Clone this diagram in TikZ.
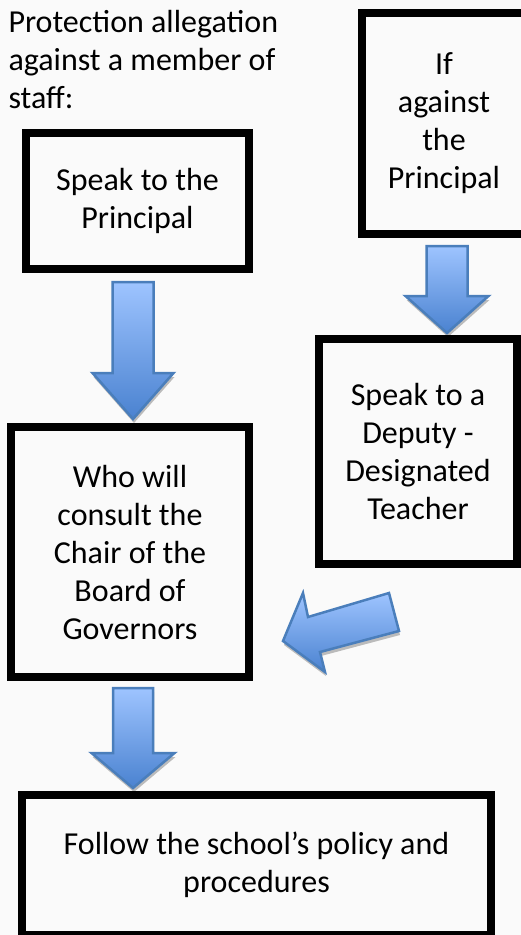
\documentclass[tikz,border=0pt]{standalone}
\usepackage{fontspec}
\setmainfont{Carlito}
\usetikzlibrary{calc}
\usetikzlibrary{shadows}

\definecolor{paper}{HTML}{FAFAFA}
\definecolor{arrowtop}{HTML}{9EC4FF}
\definecolor{arrowbottom}{HTML}{4A82D0}
\definecolor{arrowline}{HTML}{4A7EBB}

\tikzset{
  flowtext/.style={font=\fontsize{32}{38}\selectfont},
  box/.style={flowtext, draw=black, line width=8pt, inner sep=0pt, align=center},
  blockarrow/.style={draw=arrowline, line width=2.5pt, line join=miter,
    top color=arrowtop, bottom color=arrowbottom,
    drop shadow={shadow xshift=1pt, shadow yshift=-4pt, opacity=0.25, fill=black}},
}

\begin{document}
\begin{tikzpicture}[x=1pt, y=-1pt]
\clip (0,0) rectangle (521,935); % page is the size of the reference
\fill [paper] (0,0) rectangle (521,935);

% base of a multi-line node is its last line
\node (allegation) [flowtext, anchor=base west, align=left] at (5,108)
      {Protection allegation\\against a member of\\staff:};

\node (principal) [box, minimum width=223pt, minimum height=136pt] at (137.5,201)
      {Speak to the\\Principal};
\node (ifprincipal) [box, minimum width=164pt, minimum height=221pt] at (444,123.5)
      {If\\against\\the\\Principal};
\node (deputy) [box, minimum width=198pt, minimum height=225pt] at (418,451.5)
      {Speak to a\\Deputy -\\Designated\\Teacher};
\node (chair) [box, minimum width=238pt, minimum height=250pt] at (130,552)
      {Who will\\consult the\\Chair of the\\Board of\\Governors};
\node (policy) [box, minimum width=469pt, minimum height=140pt] at (256.5,865)
      {Follow the school's policy and\\procedures};

% block arrows, drawn from their tips
\path ([xshift=3pt, yshift=4pt]chair.north) coordinate (tipa);
\path ($(ifprincipal.south |- deputy.north)+(3,-2)$) coordinate (tipb);
\path ($(chair.south |- policy.north)+(3,-3)$) coordinate (tipc);

\draw [blockarrow] (tipa) -- ++(40.5,-46) -- ++(-20,0) -- ++(0,-91)
      -- ++(-41,0) -- ++(0,91) -- ++(-20,0) -- cycle;
\draw [blockarrow] (tipb) -- ++(41.5,-37) -- ++(-21,0) -- ++(0,-50)
      -- ++(-41,0) -- ++(0,50) -- ++(-21,0) -- cycle;
\draw [blockarrow] (tipc) -- ++(41.5,-35) -- ++(-21.5,0) -- ++(0,-65)
      -- ++(-40,0) -- ++(0,65) -- ++(-21.5,0) -- cycle;

% the slanted one between deputy and chair
\draw [blockarrow] (283,641) coordinate (tipd) -- (303,593) -- (308,617) -- (389,593)
      -- (399,631) -- (320,652) -- (325,672) -- cycle;
\end{tikzpicture}
\end{document}
